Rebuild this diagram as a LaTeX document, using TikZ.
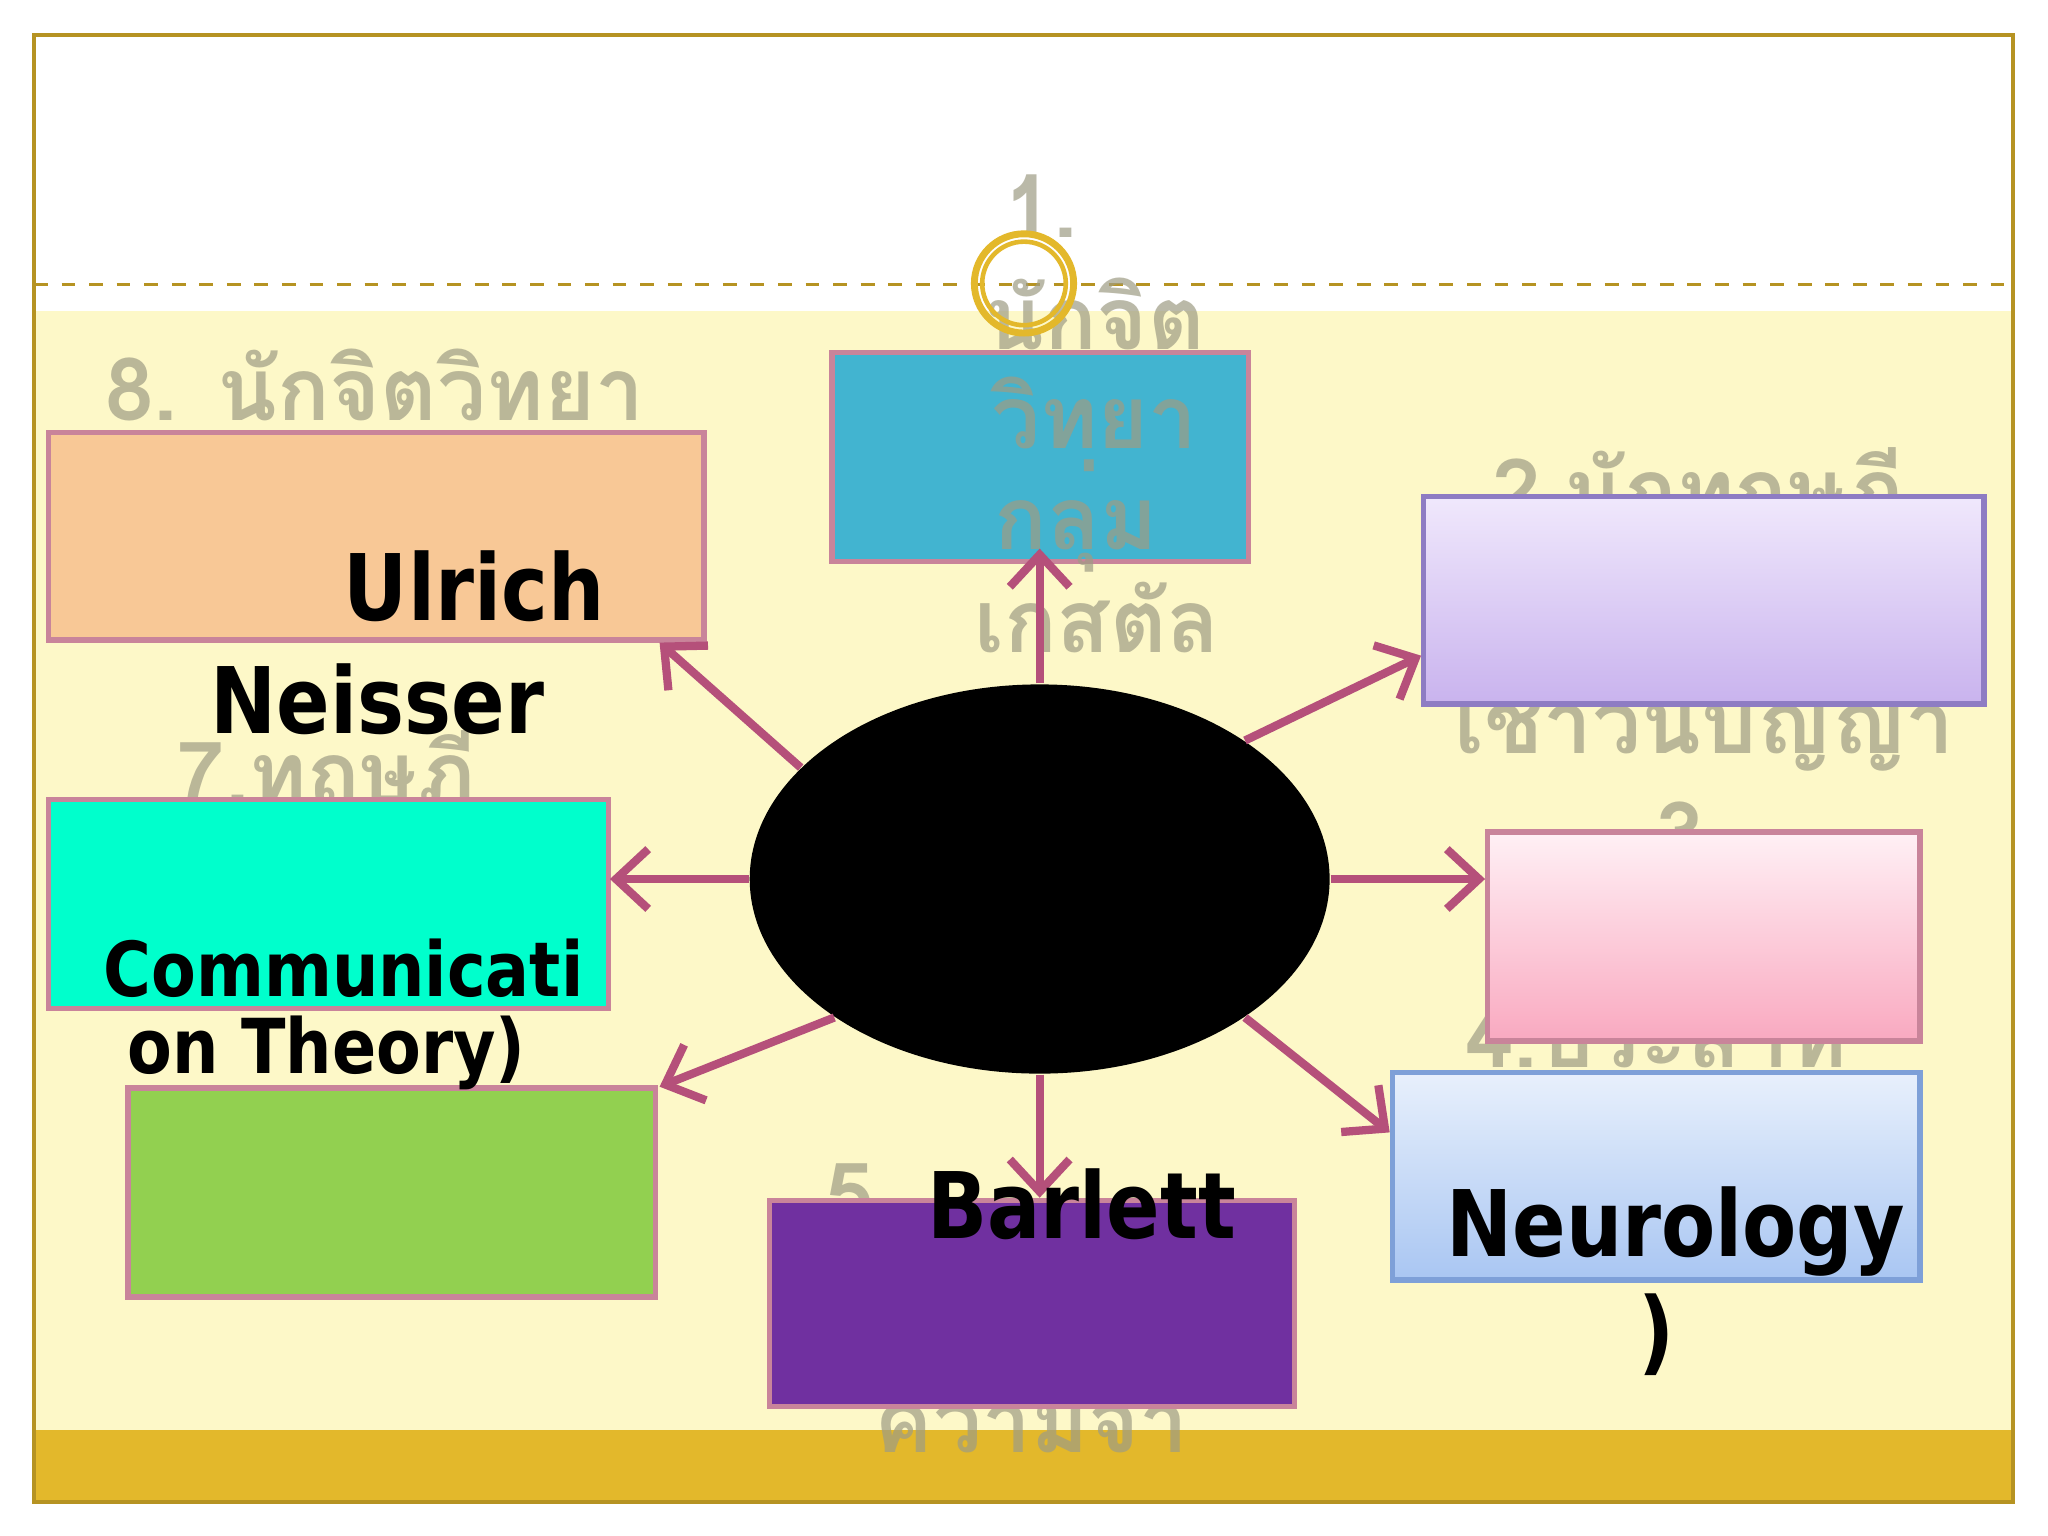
\documentclass[tikz,border=0pt]{standalone}
\usepackage{fontspec}
\setmainfont{DejaVu Sans}
\newfontfamily\nar{DejaVu Sans}[FakeStretch=0.86]
\newfontfamily\thai{Loma}
\usetikzlibrary{arrows.meta,shapes.geometric}
\definecolor{cream}{HTML}{FDF8C8}
\definecolor{gold}{HTML}{E3B82B}
\definecolor{arr}{HTML}{B5507A}
\definecolor{bord}{HTML}{C9849A}
\definecolor{ghost}{HTML}{9E9C84}
\begin{document}
\begin{tikzpicture}[x=0.01cm,y=-0.01cm,
  box/.style={draw=bord,line width=1.2pt},
  con/.style={draw=arr,line width=1.8pt,-{Straight Barb[length=7pt,width=13pt,line width=1.8pt]}},
  big/.style={font=\nar\fontsize{20}{24}\bfseries\selectfont,text=black},
  mid/.style={font=\nar\fontsize{16.5}{20}\bfseries\selectfont,text=black},
  gh/.style={font=\thai\fontsize{19}{22}\bfseries\selectfont,text=ghost,opacity=0.7}]
\useasboundingbox (0,0) rectangle (1568,1176);
\fill[white] (0,0) rectangle (1568,1176);
\fill[cream] (26,238) rectangle (1541,1095);
\fill[gold] (26,1095) rectangle (1541,1150);
\draw[gold!80!black,line width=0.8pt] (26,27) rectangle (1541,1150);
\draw[gold!80!black,dashed,line width=0.6pt] (26,218) -- (1541,218);
\node[gh] (g2) at (1300,378) {2.นักทฤษฎี};
\node[gh] (t2b) at (1305,548) {เชาวน์ปัญญา};
\node[gh] (t3) at (1296,638) {3.};
\node[gh] (t4) at (1268,793) {4.ประสาท};
\node[gh] (t5) at (660,915) {5.};
\node[gh] (t5b) at (790,1085) {ความจำ};
\node[gh] (t7) at (250,595) {7.ทฤษฎี};
\node[box,fill={rgb,255:red,66;green,180;blue,208},minimum width=319*0.01cm,minimum height=160*0.01cm] (c1) at (796.5,350) {};
\node[box,draw={rgb,255:red,142;green,124;blue,195},top color={rgb,255:red,240;green,232;blue,252},bottom color={rgb,255:red,201;green,179;blue,238},minimum width=429*0.01cm,minimum height=159*0.01cm] (c2) at (1304.5,459.5) {};
\node[box,top color={rgb,255:red,255;green,240;blue,245},bottom color={rgb,255:red,249;green,169;blue,192},minimum width=331*0.01cm,minimum height=160*0.01cm] (c3) at (1304.5,717) {};
\node[box,draw={rgb,255:red,126;green,160;blue,216},top color={rgb,255:red,232;green,240;blue,252},bottom color={rgb,255:red,169;green,198;blue,242},minimum width=404*0.01cm,minimum height=159*0.01cm] (c4) at (1268,900.5) {};
\node[box,fill={rgb,255:red,112;green,48;blue,160},minimum width=402*0.01cm,minimum height=158*0.01cm] (c5) at (790,998) {};
\node[box,fill={rgb,255:red,146;green,208;blue,80},minimum width=404*0.01cm,minimum height=160*0.01cm] (c6) at (300,913) {};
\node[box,fill={rgb,255:red,0;green,255;blue,204},minimum width=429*0.01cm,minimum height=160*0.01cm] (c7) at (251.5,692) {};
\node[box,fill={rgb,255:red,248;green,200;blue,150},minimum width=502*0.01cm,minimum height=159*0.01cm] (c8) at (288,410.5) {};
\node[gh] (t1a) at (797,158) {1.};
\node[gh] (t1b) at (838,240) {นักจิต};
\node[gh] (t1c) at (838,316) {วิทยา};
\node[gh] (t1d) at (824,395) {กลุ่ม};
\node[gh] (t1e) at (840,473) {เกสตัล};
\node[gh] (t8) at (287,295) {8. นักจิตวิทยา};
\node[ellipse,fill=black,minimum width=444*0.01cm,minimum height=298*0.01cm,inner sep=0] (e) at (796,673) {};
\draw[gold,line width=1.5pt] (784,217) circle (38);
\draw[gold,line width=1pt] (784,217) circle (32);
\coordinate (a1) at (796,420);
\coordinate (a2) at (1088,502);
\coordinate (a3) at (1137,673);
\coordinate (a4) at (1064,867);
\coordinate (a5) at (796,917);
\coordinate (a6) at (505,832);
\coordinate (a7) at (467,673);
\coordinate (a8) at (505,492);
\draw[con] (e.north) -- (a1);
\draw[con] (e.34) -- (a2);
\draw[con] (e.east) -- (a3);
\draw[con] (e.-34) -- (a4);
\draw[con] (e.south) -- (a5);
\draw[con] (e.-146) -- (a6);
\draw[con] (e.west) -- (a7);
\draw[con] (e.155) -- (a8);
\node[big] (u) at (363,449) {Ulrich};
\node[big] (n) at (289,535) {Neisser};
\node[mid] (cm) at (263,741) {Communicati};
\node[mid] (ot) at (250,806) {on Theory)};
\node[big] (b) at (828,922) {Barlett};
\node[big] (nr) at (1283,943) {Neurology};
\node[big] (p) at (1268,1022) {)};
\end{tikzpicture}
\end{document}
